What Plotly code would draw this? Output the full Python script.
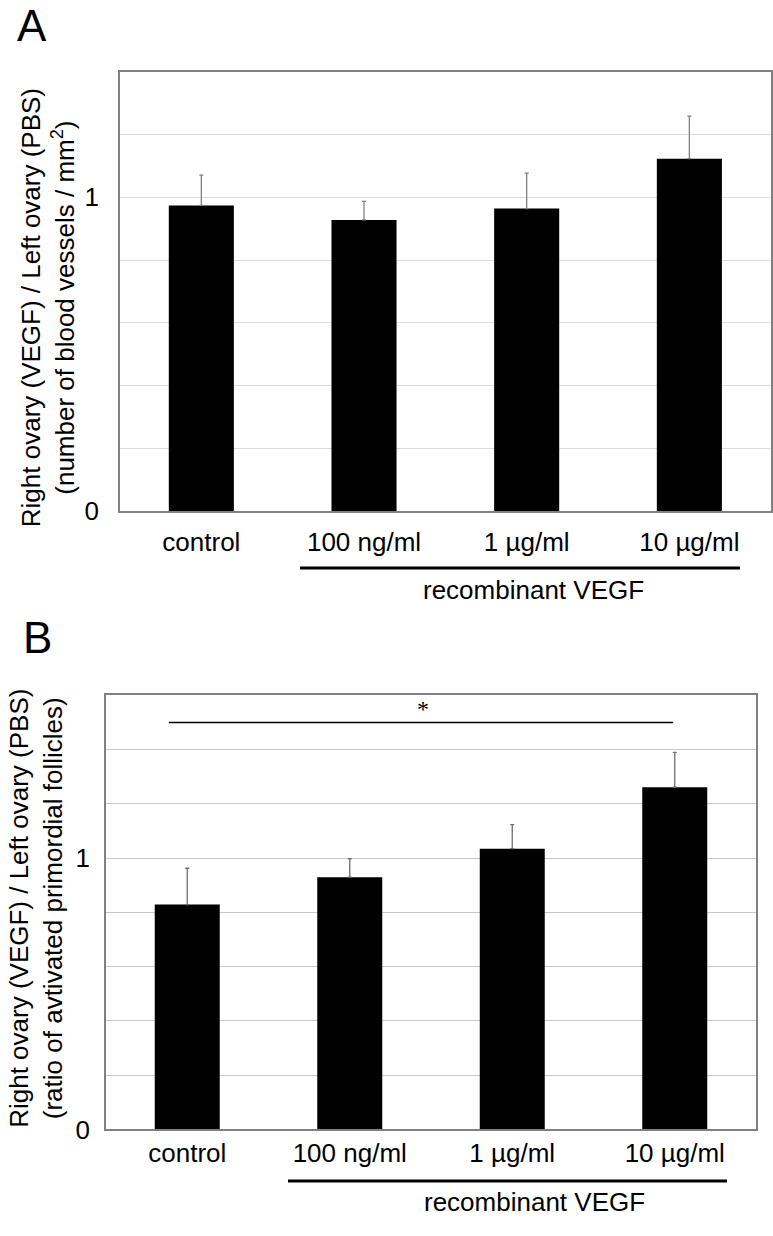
import plotly.graph_objects as go

W, H = 773, 1236

categories = ["control", "100 ng/ml", "1 µg/ml", "10 µg/ml"]

# Panel A: blood vessels ratio
a_means = [0.974, 0.928, 0.964, 1.123]
a_err = [0.097, 0.059, 0.113, 0.136]

# Panel B: activated primordial follicles ratio
b_means = [0.829, 0.930, 1.035, 1.262]
b_err = [0.134, 0.068, 0.089, 0.128]

y_tickvals = [0, 1]
y_ticktext = ["0", "1"]
grid_step = 0.2

FONT = "Liberation Sans, Arial, sans-serif"


def px_x(p):
    return p / W


def px_y(p):
    return 1 - p / H


fig = go.Figure()

fig.add_trace(go.Bar(
    x=categories, y=a_means, xaxis="x", yaxis="y",
    marker=dict(color="black", line=dict(width=0)),
    error_y=dict(type="data", array=a_err, symmetric=False,
                 arrayminus=[0] * len(a_err), color="#808080",
                 thickness=1.3, width=2),
    showlegend=False,
))
fig.add_trace(go.Bar(
    x=categories, y=b_means, xaxis="x2", yaxis="y2",
    marker=dict(color="black", line=dict(width=0)),
    error_y=dict(type="data", array=b_err, symmetric=False,
                 arrayminus=[0] * len(b_err), color="#6f6f6f",
                 thickness=1.3, width=2),
    showlegend=False,
))

axis_common = dict(showline=True, linecolor="#808080", linewidth=1.5,
                   mirror=True, zeroline=False, ticks="")

fig.update_layout(
    width=W, height=H,
    margin=dict(l=0, r=0, t=0, b=0),
    paper_bgcolor="white", plot_bgcolor="white",
    bargap=0.6,
    font=dict(family=FONT, color="black"),
    xaxis=dict(domain=[px_x(120), px_x(770.7)], anchor="y",
               showgrid=False, tickfont=dict(size=26, family=FONT, color="black"),
               ticklabelstandoff=7, **axis_common),
    yaxis=dict(domain=[px_y(517.3), px_y(72.7)], anchor="x",
               range=[0, 1.4], tickvals=y_tickvals, ticktext=y_ticktext,
               showgrid=True, gridcolor="#dcdcdc", gridwidth=1,
               minor=dict(tick0=0, dtick=grid_step, showgrid=True,
                          gridcolor="#dcdcdc", gridwidth=1, ticks=""),
               tickfont=dict(size=26, family=FONT, color="black"),
               ticklabelstandoff=14, **axis_common),
    xaxis2=dict(domain=[px_x(106), px_x(756)], anchor="y2",
                showgrid=False, tickfont=dict(size=26, family=FONT, color="black"),
                ticklabelstandoff=0, **axis_common),
    yaxis2=dict(domain=[px_y(1143.3), px_y(704)], anchor="x2",
                range=[0, 1.6], tickvals=y_tickvals, ticktext=y_ticktext,
                showgrid=True, gridcolor="#c8c8c8", gridwidth=1,
                minor=dict(tick0=0, dtick=grid_step, showgrid=True,
                           gridcolor="#c8c8c8", gridwidth=1, ticks=""),
                tickfont=dict(size=26, family=FONT, color="black"),
                ticklabelstandoff=9, **axis_common),
)

annotations = [
    dict(text="A", x=px_x(32), y=px_y(26), xref="paper", yref="paper",
         showarrow=False, font=dict(size=44, family=FONT, color="black"),
         xanchor="center", yanchor="middle"),
    dict(text="B", x=px_x(37), y=px_y(645), xref="paper", yref="paper",
         showarrow=False, font=dict(size=44, family=FONT, color="black"),
         xanchor="center", yanchor="middle"),
    dict(text="Right ovary (VEGF) / Left ovary (PBS)<br>(number of blood vessels / mm<sup>2</sup>)",
         x=px_x(48), y=px_y(312), xref="paper", yref="paper", textangle=-90,
         showarrow=False, font=dict(size=26, family=FONT, color="black"),
         xanchor="center", yanchor="middle"),
    dict(text="Right ovary (VEGF) / Left ovary (PBS)<br>(ratio of avtivated primordial follicles)",
         x=px_x(36), y=px_y(920), xref="paper", yref="paper", textangle=-90,
         showarrow=False, font=dict(size=26, family=FONT, color="black"),
         xanchor="center", yanchor="middle"),
    dict(text="recombinant VEGF", x=px_x(533), y=px_y(597), xref="paper", yref="paper",
         showarrow=False, font=dict(size=26, family=FONT, color="black"),
         xanchor="center", yanchor="middle"),
    dict(text="recombinant VEGF", x=px_x(534), y=px_y(1217), xref="paper", yref="paper",
         showarrow=False, font=dict(size=26, family=FONT, color="black"),
         xanchor="center", yanchor="middle"),
    dict(text="*", x=1.45, y=1.55, xref="x2", yref="y2",
         showarrow=False, font=dict(size=24, family="Liberation Serif, serif", color="black"),
         xanchor="center", yanchor="middle"),
]
fig.update_layout(annotations=annotations)

shapes = [
    dict(type="line", xref="paper", yref="paper",
         x0=px_x(300), x1=px_x(740), y0=px_y(575), y1=px_y(575),
         line=dict(color="black", width=3)),
    dict(type="line", xref="paper", yref="paper",
         x0=px_x(288), x1=px_x(727), y0=px_y(1195.5), y1=px_y(1195.5),
         line=dict(color="black", width=3)),
    dict(type="line", xref="x2", yref="y2",
         x0=-0.113, x1=2.99, y0=1.5, y1=1.5,
         line=dict(color="black", width=1.5)),
]
fig.update_layout(shapes=shapes)

# remove the default body margin and any scrollbars so the figure fills the page exactly
post = ("document.documentElement.style.margin='0px';"
        "document.documentElement.style.padding='0px';"
        "document.documentElement.style.overflow='hidden';"
        "document.body.style.margin='0px';"
        "document.body.style.padding='0px';"
        "document.body.style.overflow='hidden';")
fig.write_html("out.html", config={"displayModeBar": False}, post_script=post)
